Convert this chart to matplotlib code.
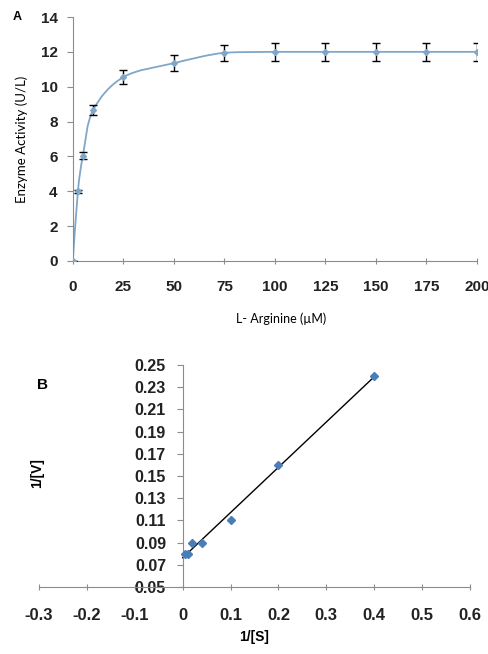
import matplotlib.pyplot as plt
import numpy as np
from matplotlib.path import Path
from matplotlib.patches import PathPatch

# Panel A: enzyme activity vs substrate concentration
conc = [0, 2.5, 5, 10, 25, 50, 75, 100, 125, 150, 175, 200]
activity = [0, 4.0, 6.05, 8.65, 10.55, 11.35, 11.95, 12.0, 12.0, 12.0, 12.0, 12.0]
activity_err = [0, 0.1, 0.2, 0.3, 0.4, 0.45, 0.45, 0.5, 0.5, 0.5, 0.5, 0.5]

# Panel B: Lineweaver-Burk
inv_s = [0.005, 0.01, 0.02, 0.04, 0.1, 0.2, 0.4]
inv_v = [0.08, 0.08, 0.09, 0.09, 0.11, 0.16, 0.24]

grey = '#8c8c8c'
curve_col = '#7fa7c9'
pt_col = '#4a7ebb'

fig = plt.figure(figsize=(4.89, 6.54), dpi=100)

# ---------- A ----------
ax = fig.add_axes([0.149, 0.601, 0.826, 0.373])


def smooth_path(x, y):
    # bezier through the points, control points clamped so the line doesn't overshoot
    pts = np.column_stack([x, y]).astype(float)
    verts = [pts[0]]
    codes = [Path.MOVETO]
    n = len(pts)
    for i in range(n - 1):
        p0 = pts[i - 1] if i > 0 else pts[i]
        p1 = pts[i]
        p2 = pts[i + 1]
        p3 = pts[i + 2] if i + 2 < n else pts[i + 1]
        c1 = p1 + (p2 - p0) / 6.0
        c2 = p2 - (p3 - p1) / 6.0
        lo, hi = min(p1[1], p2[1]), max(p1[1], p2[1])
        c1[1] = np.clip(c1[1], lo, hi)
        c2[1] = np.clip(c2[1], lo, hi)
        verts += [c1, c2, p2]
        codes += [Path.CURVE4] * 3
    return Path(verts, codes)


ax.add_patch(PathPatch(smooth_path(conc, activity), fill=False,
                       edgecolor=curve_col, lw=1.3, zorder=2))
ax.errorbar(conc, activity, yerr=activity_err, fmt='D', ms=3,
            color=curve_col, mfc=curve_col, mec=curve_col,
            ecolor='black', elinewidth=1.0, capsize=3, capthick=1.0, zorder=3)

ax.set_xlim(0, 200)
ax.set_ylim(0, 14)
ax.set_xticks(range(0, 201, 25))
ax.set_yticks(range(0, 15, 2))
for s in ['top', 'right']:
    ax.spines[s].set_visible(False)
for s in ['left', 'bottom']:
    ax.spines[s].set_color(grey)
ax.tick_params(axis='y', direction='out', length=4, color=grey, pad=7)
ax.tick_params(axis='x', direction='inout', length=5, color=grey, pad=11)
for lab in ax.get_xticklabels() + ax.get_yticklabels():
    lab.set_fontfamily('Liberation Sans')
    lab.set_fontweight('bold')
    lab.set_fontsize(11)
    lab.set_color('#222222')
ax.set_ylabel('Enzyme Activity (U/L)', fontfamily='Lato', fontsize=9.5, labelpad=9)
fig.text(0.575, 0.513, 'L- Arginine (µM)', fontfamily='Lato', fontsize=9,
         ha='center', va='center')
fig.text(0.025, 0.974, 'A', fontfamily='Liberation Sans', fontweight='bold',
         fontsize=9, ha='left', va='center')

# ---------- B ----------
bx = fig.add_axes([0.080, 0.1025, 0.881, 0.3395])
bx.plot(inv_s, inv_v, 'D', ms=4, color=pt_col, zorder=3)
slope, intercept = np.polyfit(inv_s, inv_v, 1)
fit_x = np.array([0.0, max(inv_s)])
bx.plot(fit_x, slope * fit_x + intercept, color='black', lw=1.0, zorder=2)

bx.set_xlim(-0.3, 0.6)
bx.set_ylim(0.05, 0.25)
bx.set_xticks(np.arange(-0.3, 0.61, 0.1))
bx.set_xticklabels(['-0.3', '-0.2', '-0.1', '0', '0.1', '0.2', '0.3', '0.4', '0.5', '0.6'])
bx.set_yticks(np.arange(0.05, 0.251, 0.02))
bx.set_yticklabels(['%.2f' % v for v in np.arange(0.05, 0.251, 0.02)])
bx.spines['left'].set_position(('data', 0))
for s in ['top', 'right']:
    bx.spines[s].set_visible(False)
for s in ['left', 'bottom']:
    bx.spines[s].set_color(grey)
bx.tick_params(axis='y', direction='out', length=4, color=grey, pad=8)
bx.tick_params(axis='x', direction='inout', length=5, color=grey, pad=13)
for lab in bx.get_yticklabels():
    lab.set_fontsize(11.5)
for lab in bx.get_xticklabels():
    lab.set_fontsize(12)
for lab in bx.get_xticklabels() + bx.get_yticklabels():
    lab.set_fontfamily('Liberation Sans')
    lab.set_fontweight('bold')
    lab.set_color('#222222')
fig.text(0.075, 0.277, '1/[V]', fontfamily='Liberation Sans', fontweight='bold',
         fontsize=10, rotation=90, ha='center', va='center')
fig.text(0.52, 0.026, '1/[S]', fontfamily='Liberation Sans', fontweight='bold',
         fontsize=10, ha='center', va='center')
fig.text(0.075, 0.411, 'B', fontfamily='Liberation Sans', fontweight='bold',
         fontsize=11, ha='left', va='center')

fig.savefig('out.png', dpi=100)
